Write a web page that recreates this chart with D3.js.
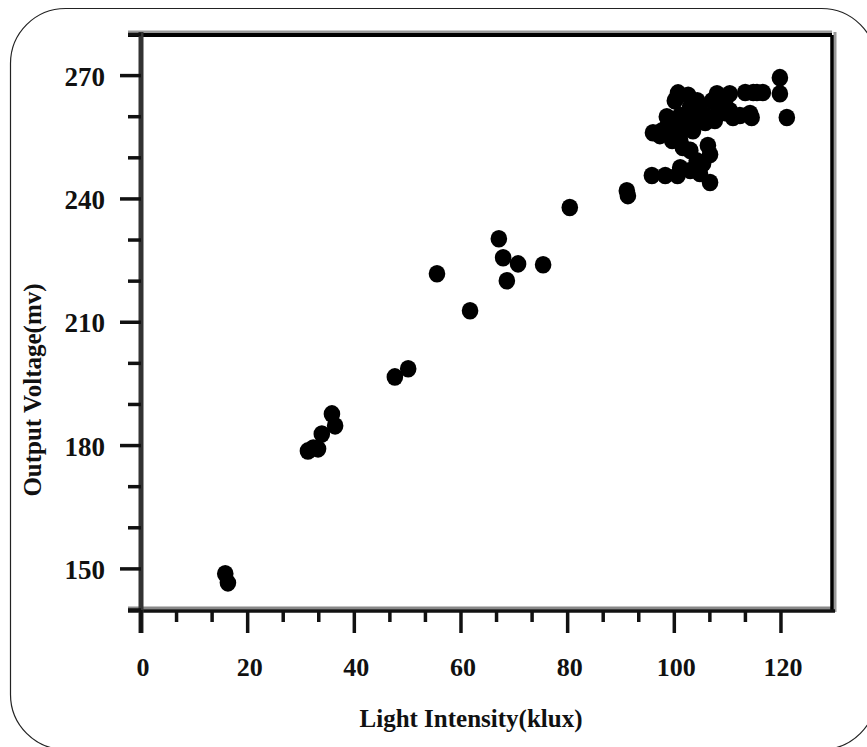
<!DOCTYPE html>
<html>
<head>
<meta charset="utf-8">
<script src="https://cdnjs.cloudflare.com/ajax/libs/d3/7.8.5/d3.min.js"></script>
<style>
body { margin: 0; background: #fff; }
text { font-family: "Liberation Serif", "Times New Roman", serif; font-weight: bold; fill: #111; }
</style>
</head>
<body>
<div id="chart"></div>
<script>
// light intensity (klux) vs output voltage (mv)
var lux = [15.8, 16.3, 31.3, 32.3, 33.2, 33.9, 35.8, 36.4, 47.6, 50.1,
	55.5, 61.7, 67.1, 67.9, 70.7, 68.6, 75.4, 80.4, 91.1, 91.3,
	95.8, 98.3, 101.1, 103.0, 104.2, 106.3, 106.7, 105.4, 100.6, 104.8, 106.7, 103.0,
	96.0, 97.7, 99.2, 101.6, 101.1, 100.5, 100.7, 102.9, 103.5, 106.1,
	108.0, 110.4, 109.1, 111.0, 114.2, 114.8, 116.6, 119.8, 119.8, 121.1,
	98.6, 102.4, 104.3,
	100.1, 102.6, 104.8, 107.1, 109.5, 101.1, 103.5, 105.8, 108.2, 110.4,
	98.8, 101.1, 103.5, 97.3, 99.6, 112.3, 114.5, 105.8, 107.6, 109.5, 113.3, 115.5];
var volt = [148.8, 146.6, 178.7, 179.4, 179.2, 182.8, 187.7, 184.8, 196.7, 198.7,
	221.8, 212.8, 230.3, 225.7, 224.2, 220.1, 224.0, 237.9, 242.0, 240.8,
	245.7, 245.7, 247.6, 246.9, 249.3, 253.0, 244.0, 248.6, 245.7, 246.2, 250.8, 251.8,
	256.1, 256.6, 257.4, 252.5, 254.2, 264.7, 265.8, 262.2, 259.1, 259.8,
	265.6, 265.6, 261.5, 259.8, 260.8, 265.9, 265.9, 269.5, 265.6, 259.8,
	260.0, 259.8, 263.9,
	263.9, 265.2, 262.7, 263.9, 263.9, 260.3, 259.6, 260.3, 261.0, 261.5,
	257.9, 256.6, 256.6, 255.4, 254.2, 260.3, 259.8, 258.6, 259.1, 261.0, 265.9, 265.9];
var xTickLabels = [0, 20, 40, 60, 80, 100, 120];
var yTickLabels = [150, 180, 210, 240, 270];

var w = 867;
var h = 747;
var plotLeft = 141, plotRight = 832, plotTop = 35, plotBottom = 610;

var svg = d3.select("#chart").append("svg").attr("width", w).attr("height", h);

svg.append("rect").attr("x", 10.5).attr("y", 8.5).attr("width", 866).attr("height", 741)
	.attr("rx", 55).attr("ry", 55).attr("fill", "none").attr("stroke", "#222").attr("stroke-width", 1.2);

var x = d3.scaleLinear().domain([0, 130]).range([plotLeft, 834.3]);
var y = d3.scaleLinear().domain([140, 280]).range([plotBottom, 34.5]);

// frame with the grey shadow edges
svg.append("line").attr("x1", 128).attr("x2", plotRight).attr("y1", plotTop - 3).attr("y2", plotTop - 3).attr("stroke", "#999").attr("stroke-width", 3);
svg.append("line").attr("x1", plotRight + 3).attr("x2", plotRight + 3).attr("y1", plotTop - 3).attr("y2", plotBottom + 2).attr("stroke", "#999").attr("stroke-width", 3);
svg.append("line").attr("x1", 128).attr("x2", plotRight).attr("y1", plotBottom - 2).attr("y2", plotBottom - 2).attr("stroke", "#888").attr("stroke-width", 3);
svg.append("line").attr("x1", 128).attr("x2", plotRight).attr("y1", plotTop).attr("y2", plotTop).attr("stroke", "#000").attr("stroke-width", 4);
svg.append("line").attr("x1", plotRight).attr("x2", plotRight).attr("y1", plotTop).attr("y2", plotBottom + 1).attr("stroke", "#000").attr("stroke-width", 3.5);
svg.append("line").attr("x1", 128).attr("x2", plotRight + 3).attr("y1", plotBottom + 1).attr("y2", plotBottom + 1).attr("stroke", "#111").attr("stroke-width", 3.5);
svg.append("line").attr("x1", plotLeft).attr("x2", plotLeft).attr("y1", plotTop - 3).attr("y2", plotBottom + 23).attr("stroke", "#333").attr("stroke-width", 5);

// y ticks
var yMinor = d3.range(140, 281, 10);
svg.selectAll(".ytick").data(yMinor).enter().append("line")
	.attr("x1", function(d) { return d % 30 == 0 ? plotLeft - 21 : plotLeft - 13; })
	.attr("x2", plotLeft)
	.attr("y1", function(d) { return y(d); })
	.attr("y2", function(d) { return y(d); })
	.attr("stroke", "#111").attr("stroke-width", 3.5);

svg.selectAll(".ylab").data(yTickLabels).enter().append("text")
	.attr("x", 105).attr("y", function(d) { return y(d) + 10; })
	.attr("text-anchor", "end").attr("font-size", 27)
	.text(function(d) { return d; });

// x ticks
var xMinor = d3.range(0, 19).map(function(i) { return i * 20 / 3; }).filter(function(d) { return d < 130; });
svg.selectAll(".xtick").data(xMinor).enter().append("line")
	.attr("x1", function(d) { return x(d); })
	.attr("x2", function(d) { return x(d); })
	.attr("y1", plotBottom)
	.attr("y2", function(d, i) { return i % 3 == 0 ? plotBottom + 23 : plotBottom + 12; })
	.attr("stroke", "#111").attr("stroke-width", 3.5);

svg.selectAll(".xlab").data(xTickLabels).enter().append("text")
	.attr("x", function(d) { return x(d) + 2; }).attr("y", 676)
	.attr("text-anchor", "middle").attr("font-size", 26)
	.text(function(d) { return d; });

// points
svg.selectAll("ellipse").data(lux).enter().append("ellipse")
	.attr("cx", function(d) { return x(d); })
	.attr("cy", function(d, i) { return y(volt[i]); })
	.attr("rx", 8.3).attr("ry", 8.8)
	.attr("fill", "#000");

svg.append("text").attr("x", 471).attr("y", 727).attr("text-anchor", "middle")
	.attr("font-size", 25).text("Light Intensity(klux)");

svg.append("text").attr("transform", "translate(41,390) rotate(-90)").attr("text-anchor", "middle")
	.attr("font-size", 25).text("Output Voltage(mv)");
</script>
</body>
</html>
